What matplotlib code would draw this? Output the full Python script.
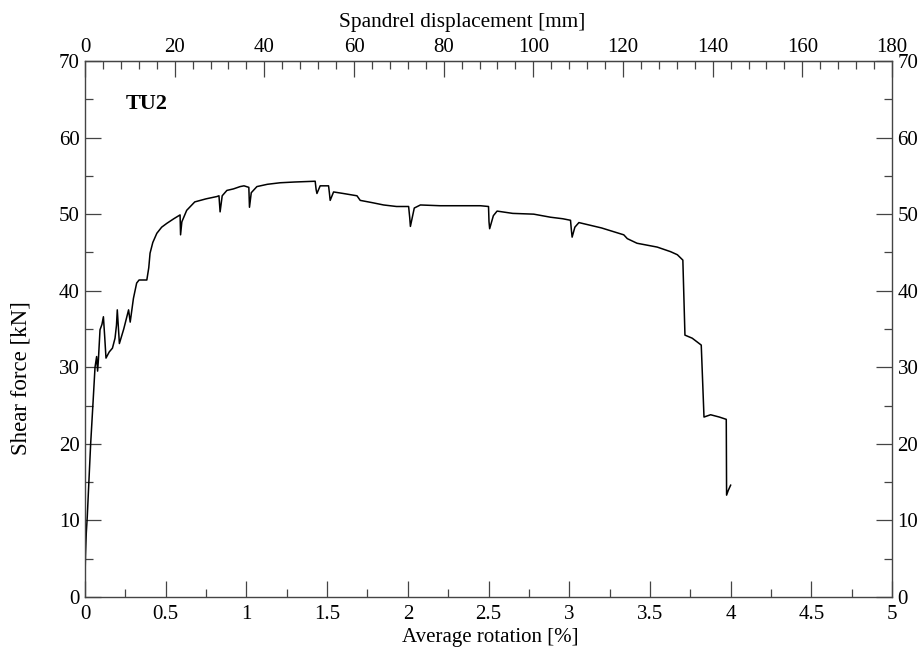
import matplotlib.pyplot as plt
from matplotlib.ticker import MultipleLocator, FixedLocator, FuncFormatter

# Datos (TU2)
rotation = [0.0, 0.003, 0.008, 0.014, 0.025, 0.035, 0.05, 0.062, 0.072, 0.078, 0.083,
            0.093, 0.105, 0.114, 0.122, 0.13, 0.15, 0.17, 0.186, 0.195, 0.2, 0.213,
            0.24, 0.27, 0.28, 0.30, 0.32, 0.335, 0.383, 0.395, 0.403, 0.42, 0.445,
            0.475, 0.507, 0.55, 0.589, 0.592, 0.60, 0.63, 0.68, 0.75, 0.817, 0.83,
            0.837, 0.85, 0.879, 0.92, 0.961, 0.985, 1.015, 1.019, 1.03, 1.065, 1.13,
            1.209, 1.30, 1.426, 1.432, 1.437, 1.457, 1.509, 1.514, 1.519, 1.54, 1.60,
            1.685, 1.705, 1.78, 1.85, 1.93, 2.005, 2.012, 2.016, 2.04, 2.078, 2.2,
            2.35, 2.45, 2.50, 2.503, 2.507, 2.53, 2.553, 2.65, 2.78, 2.884, 2.96,
            3.008, 3.013, 3.018, 3.035, 3.06, 3.2, 3.338, 3.36, 3.42, 3.545, 3.628,
            3.67, 3.704, 3.717, 3.762, 3.818, 3.835, 3.876, 3.93, 3.973, 3.975,
            3.985, 4.0]
shear = [2.6, 5.5, 8.4, 10.5, 15.5, 20.0, 25.5, 30.0, 31.4, 29.5, 31.0,
         34.9, 35.6, 36.6, 34.0, 31.2, 32.0, 32.5, 33.8, 35.5, 37.5, 33.1,
         35.0, 37.5, 35.9, 39.0, 41.0, 41.4, 41.4, 43.0, 44.9, 46.3, 47.5,
         48.3, 48.8, 49.4, 49.9, 47.3, 49.0, 50.5, 51.6, 52.0, 52.3, 52.4,
         50.3, 52.4, 53.1, 53.3, 53.6, 53.7, 53.5, 50.9, 52.8, 53.6, 53.9,
         54.1, 54.2, 54.3, 53.2, 52.7, 53.7, 53.7, 52.8, 51.8, 52.9, 52.7,
         52.4, 51.8, 51.5, 51.2, 51.0, 51.0, 49.5, 48.4, 50.8, 51.2, 51.1,
         51.1, 51.1, 51.0, 49.0, 48.1, 49.8, 50.4, 50.1, 50.0, 49.6, 49.4,
         49.2, 48.0, 47.0, 48.3, 48.9, 48.2, 47.3, 46.8, 46.2, 45.7, 45.1,
         44.7, 44.0, 34.2, 33.8, 32.9, 23.5, 23.8, 23.5, 23.2, 13.3,
         13.9, 14.6]

top_ticks = [0, 20, 40, 60, 80, 100, 120, 140, 160, 180]

# Conversión: 1 % de rotación = 36 mm de desplazamiento
MM_PER_PCT = 36.0

plt.rcParams['font.family'] = ['Liberation Serif', 'DejaVu Serif']
plt.rcParams['font.size'] = 15

fig = plt.figure(figsize=(9.24, 6.52), dpi=100)
ax = fig.add_axes([0.092, 0.0844, 0.8734, 0.822])

ax.plot(rotation, shear, color='black', linewidth=1.1)

ax.set_xlim(0, 5)
ax.set_ylim(0, 70)
ax.xaxis.set_major_locator(MultipleLocator(0.5))
ax.xaxis.set_minor_locator(MultipleLocator(0.25))
ax.xaxis.set_major_formatter(FuncFormatter(lambda v, p: '%g' % v))
ax.yaxis.set_major_locator(MultipleLocator(10))
ax.yaxis.set_minor_locator(MultipleLocator(5))

ax.tick_params(which='both', direction='in', top=False, right=True,
               labelright=True, width=0.9, color='#444444')
ax.tick_params(which='major', length=11.5)
ax.tick_params(which='minor', length=5.5)
ax.tick_params(axis='x', pad=6)
ax.tick_params(axis='y', pad=4)

for s in ax.spines.values():
    s.set_linewidth(1.0)
    s.set_color('#444444')

# Etiquetas de ejes (posiciones ajustadas a la figura original)
ax.set_xlabel('Average rotation [%]', fontsize=15)
ax.xaxis.set_label_coords(0.502, -0.058)
ax.set_ylabel('Shear force [kN]', fontsize=16.5)
ax.yaxis.set_label_coords(-0.066, 0.409)

top = ax.secondary_xaxis('top', functions=(lambda r: r * MM_PER_PCT,
                                           lambda d: d / MM_PER_PCT))
top.xaxis.set_major_locator(FixedLocator(top_ticks))
top.xaxis.set_minor_locator(MultipleLocator(4))
top.tick_params(which='both', direction='in', width=0.9, color='#444444', pad=3)
top.tick_params(which='major', length=11.5)
top.tick_params(which='minor', length=5.5)
top.spines['top'].set_color('#444444')
top.set_xlabel('Spandrel displacement [mm]', fontsize=15.3, labelpad=8)
top.xaxis.label.set_x(0.467)

ax.text(0.25, 64.4, 'TU2', fontweight='bold', fontsize=16, va='center')

fig.savefig('out.png', dpi=100)
